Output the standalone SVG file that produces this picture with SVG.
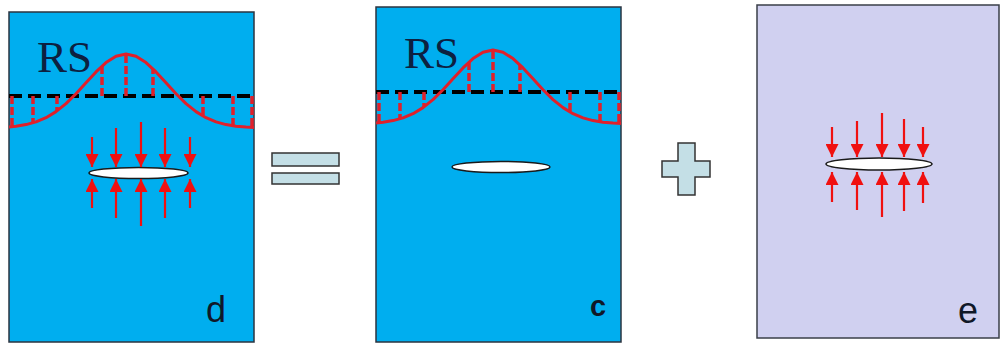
<svg xmlns="http://www.w3.org/2000/svg" xmlns:xlink="http://www.w3.org/1999/xlink" width="1000" height="344" viewBox="0 0 1000 344">
  <style>
    .panel-blue { fill: #00aeef; stroke: #2b3440; stroke-width: 1.5; }
    .panel-lav { fill: #d0d0f0; stroke: #3a3f48; stroke-width: 1.5; }
    .rs { font-family: "Liberation Serif", serif; font-size: 45px; fill: #0d2040; }
    .lbl { font-family: "Liberation Sans", Arial, sans-serif; fill: #101828; }
    .curve { fill: none; stroke: #e0202a; stroke-width: 3; stroke-linejoin: round; }
    .base { stroke: #000; stroke-width: 4; stroke-dasharray: 13 6; }
    .tick { stroke: #e0202a; stroke-width: 3.5; stroke-dasharray: 8 3; }
    .crack { fill: #fff; stroke: #1a1a1a; stroke-width: 1.5; }
    .arrow { stroke: #f01010; stroke-width: 2.2; marker-end: url(#head); }
    .sym { fill: #c4dfe6; stroke: #333; stroke-width: 1.5; }
  </style>
  <defs>
    <marker id="head" viewBox="0 0 12 12" refX="12" refY="6" markerWidth="13" markerHeight="13" orient="auto" markerUnits="userSpaceOnUse">
      <path d="M0,0 L12,6 L0,12 Z" fill="#f01010"/>
    </marker>
    <!-- residual stress profile: dashed reference line, bell curve and ordinate ticks -->
    <g id="rs-profile">
      <line class="base" x1="9" y1="96" x2="254" y2="96"/>
      <g class="tick">
        <line x1="12" y1="96" x2="12" y2="127"/>
        <line x1="33" y1="96" x2="33" y2="122.8"/>
        <line x1="57" y1="96" x2="57" y2="110.9"/>
        <line x1="102" y1="96" x2="102" y2="66"/>
        <line x1="126" y1="96" x2="126" y2="54"/>
        <line x1="153" y1="96" x2="153" y2="69"/>
        <line x1="203" y1="96" x2="203" y2="116"/>
        <line x1="233" y1="96" x2="233" y2="125.8"/>
        <line x1="252" y1="96" x2="252" y2="127.4"/>
      </g>
      <polyline class="curve" points="9,127 16,126.2 26,124.6 36,121.9 46,117.7 56,111.6 66,103.6 76,93.7 86,82.8 96,71.9 106,62.6 116,56.2 126,54 136,56.2 146,62.6 156,71.9 166,82.8 176,93.7 186,103.6 196,111.6 206,117.7 216,121.9 226,124.6 236,126.2 246,127.1 254,127.5"/>
    </g>
  </defs>

  <!-- panel d: residual stress plus crack-face tractions -->
  <g id="panel-d">
    <rect class="panel-blue" x="9" y="12" width="245" height="330"/>
    <text class="rs" x="37" y="72">RS</text>
    <use xlink:href="#rs-profile"/>
    <ellipse class="crack" cx="138.5" cy="173" rx="49.5" ry="5.5"/>
    <g class="arrow">
      <line x1="92" y1="137" x2="92" y2="167"/>
      <line x1="116" y1="128" x2="116" y2="167"/>
      <line x1="141" y1="122" x2="141" y2="167"/>
      <line x1="165" y1="128" x2="165" y2="167"/>
      <line x1="190" y1="137" x2="190" y2="167"/>
      <line x1="92" y1="208" x2="92" y2="179"/>
      <line x1="116" y1="218" x2="116" y2="179"/>
      <line x1="141" y1="226" x2="141" y2="179"/>
      <line x1="165" y1="218" x2="165" y2="179"/>
      <line x1="190" y1="208" x2="190" y2="179"/>
    </g>
    <text class="lbl" x="206" y="322" font-size="36">d</text>
  </g>

  <!-- equals sign -->
  <g id="equals">
    <rect class="sym" x="272" y="153" width="67" height="13"/>
    <rect class="sym" x="272" y="173" width="67" height="11"/>
  </g>

  <!-- panel c: residual stress only -->
  <g id="panel-c">
    <rect class="panel-blue" x="376" y="7" width="245" height="335"/>
    <text class="rs" x="404" y="68">RS</text>
    <use xlink:href="#rs-profile" transform="translate(367,-4)"/>
    <ellipse class="crack" cx="501" cy="167" rx="49" ry="5.5"/>
    <text class="lbl" x="590" y="316" font-size="29" font-weight="bold">c</text>
  </g>

  <!-- plus sign -->
  <g id="plus">
    <path class="sym" d="M678,143 H695 V161 H710 V177 H695 V195 H678 V177 H662 V161 H678 Z"/>
  </g>

  <!-- panel e: crack-face tractions only -->
  <g id="panel-e">
    <rect class="panel-lav" x="757" y="5" width="242" height="333"/>
    <ellipse class="crack" cx="879" cy="164" rx="53" ry="6"/>
    <g class="arrow">
      <line x1="832" y1="127" x2="832" y2="157"/>
      <line x1="857" y1="121" x2="857" y2="157"/>
      <line x1="882" y1="113" x2="882" y2="157"/>
      <line x1="904" y1="119" x2="904" y2="157"/>
      <line x1="923" y1="127" x2="923" y2="157"/>
      <line x1="832" y1="202" x2="832" y2="172"/>
      <line x1="857" y1="210" x2="857" y2="172"/>
      <line x1="882" y1="217" x2="882" y2="172"/>
      <line x1="904" y1="211" x2="904" y2="172"/>
      <line x1="923" y1="203" x2="923" y2="172"/>
    </g>
    <text class="lbl" x="958" y="323" font-size="36">e</text>
  </g>
</svg>
